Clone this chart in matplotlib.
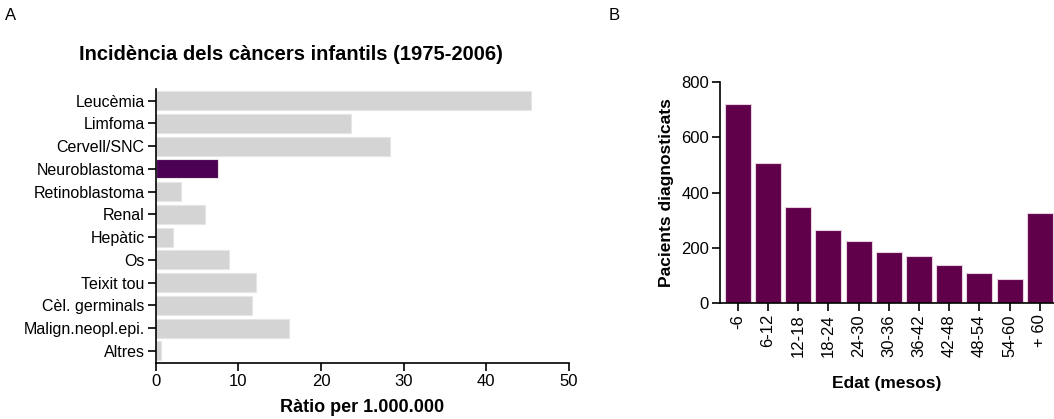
import numpy as np
from matplotlib import pyplot as plt
from matplotlib import font_manager

# fonts
names = {f.name for f in font_manager.fontManager.ttflist}
narrow = 'Liberation Sans Narrow' if 'Liberation Sans Narrow' in names else 'Liberation Sans'
arial = 'Liberation Sans'

# A: incidencia per tipus
tipus = ['Leucèmia', 'Limfoma', 'Cervell/SNC', 'Neuroblastoma', 'Retinoblastoma',
         'Renal', 'Hepàtic', 'Os', 'Teixit tou', 'Cèl. germinals',
         'Malign.neopl.epi.', 'Altres']
ratio = [45.4, 23.6, 28.4, 7.5, 3.1, 6.0, 2.1, 8.9, 12.1, 11.7, 16.1, 0.6]

# B: pacients per edat
edat = ['-6', '6-12', '12-18', '18-24', '24-30', '30-36', '36-42', '42-48',
        '48-54', '54-60', '+ 60']
pacients = [720, 508, 349, 264, 224, 186, 169, 137, 108, 86, 324]

W, H = 1054, 419
fig = plt.figure(figsize=(W / 100, H / 100), dpi=100)

def box(l, r, t, b):
    return [l / W, 1 - b / H, (r - l) / W, (b - t) / H]

# ---- panel A ----
ax1 = fig.add_axes(box(155.7, 569, 89, 363))
cols = ['#4b0055' if t == 'Neuroblastoma' else '#d4d4d4' for t in tipus]
y = np.arange(len(tipus))
ax1.barh(y, ratio, height=0.84, color=cols, edgecolor='#e6e6e6', linewidth=0.8)
ax1.set_ylim(len(tipus) - 0.47, -0.51)
ax1.set_xlim(0, 50)
ax1.set_yticks(y)
ax1.set_yticklabels(tipus, family=narrow, fontsize=11.5)
ax1.set_xticks(np.arange(0, 50.1, 10))
ax1.set_xticklabels([str(v) for v in range(0, 51, 10)], family=narrow, fontsize=12)
for s in ['top', 'right']:
    ax1.spines[s].set_visible(False)
for s in ['left', 'bottom']:
    ax1.spines[s].set_linewidth(1.2)
ax1.tick_params(direction='out', length=6, width=1.2, pad=2)
ax1.set_xlabel('Ràtio per 1.000.000', family=arial, fontweight='bold', fontsize=13, labelpad=7)
fig.text(291 / W, 1 - 55 / H, 'Incidència dels càncers infantils (1975-2006)',
         family=arial, fontweight='bold', fontsize=14.5, ha='center', va='center')
fig.text(11 / W, 1 - 15 / H, 'A', family=narrow, fontsize=12, ha='center', va='center')

# ---- panel B ----
ax2 = fig.add_axes(box(720, 1054, 82, 303))
x = np.arange(len(edat))
ax2.bar(x, pacients, width=0.86, color='#60004b', edgecolor='#e8d0e0', linewidth=0.8)
ax2.set_xlim(-0.59, 10.47)
ax2.set_ylim(0, 800)
ax2.set_yticks(np.arange(0, 801, 200))
ax2.set_yticklabels([str(v) for v in range(0, 801, 200)], family=arial, fontsize=12)
ax2.set_xticks(x)
ax2.set_xticklabels(edat, rotation=90, family=arial, fontsize=12)
for s in ['top', 'right']:
    ax2.spines[s].set_visible(False)
for s in ['left', 'bottom']:
    ax2.spines[s].set_linewidth(1.2)
ax2.tick_params(direction='out', length=6, width=1.2, pad=2)
ax2.set_xlabel('Edat (mesos)', family=arial, fontweight='bold', fontsize=12.5, labelpad=14)
ax2.set_ylabel('Pacients diagnosticats', family=arial, fontweight='bold', fontsize=12.5, labelpad=5)
fig.text(614 / W, 1 - 15 / H, 'B', family=arial, fontsize=12, ha='center', va='center')

plt.savefig('out.png', dpi=100)
